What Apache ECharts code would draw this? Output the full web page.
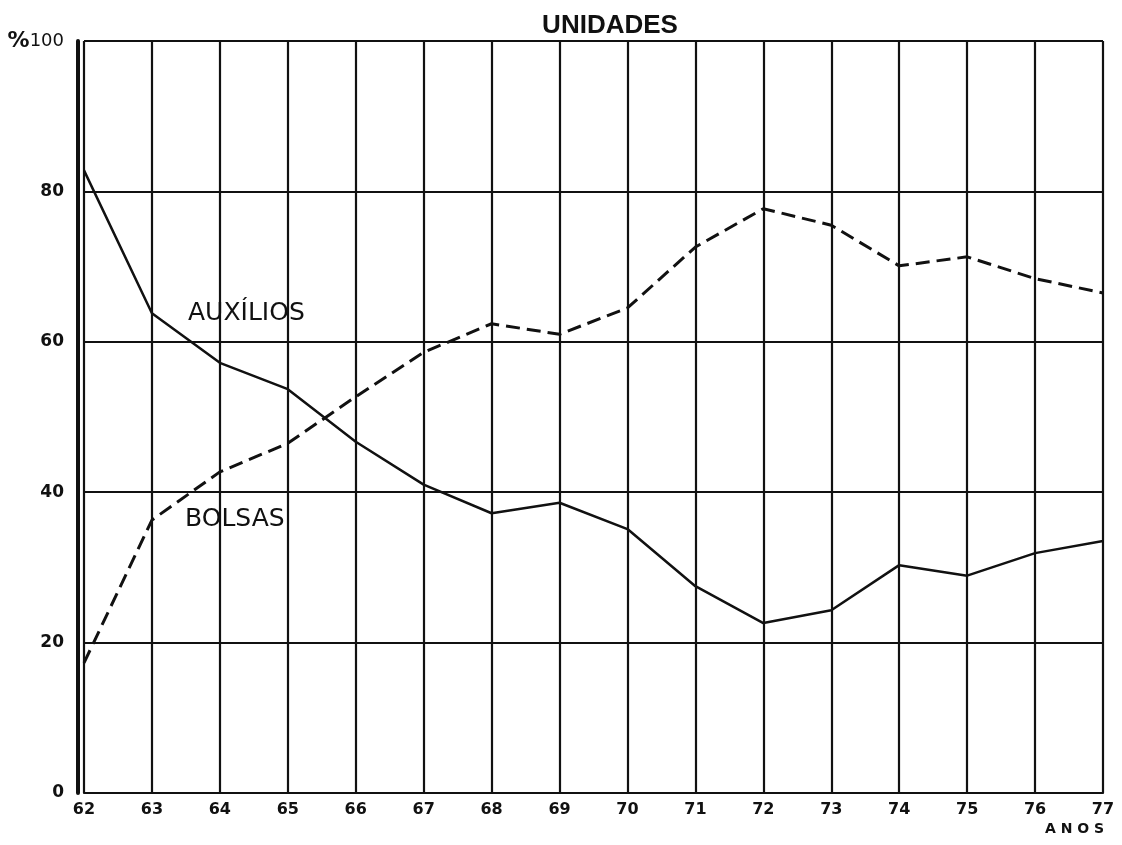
<!DOCTYPE html>
<html>
<head>
<meta charset="utf-8">
<script src="https://cdn.jsdelivr.net/npm/echarts@6/dist/echarts.min.js"></script>
<style>html,body{margin:0;padding:0;background:#fff}#c{width:1122px;height:845px}</style>
</head>
<body>
<div id="c"></div>
<script>
const years = ['62','63','64','65','66','67','68','69','70','71','72','73','74','75','76','77'];
const auxilios = [82.8,63.8,57.2,53.7,46.7,41.0,37.2,38.6,35.1,27.5,22.6,24.3,30.3,28.9,31.9,33.5];
const bolsas = [17.3,36.3,42.7,46.5,52.7,58.6,62.4,61.0,64.5,72.6,77.7,75.5,70.1,71.3,68.4,66.5];
const yTicks = [0,20,40,60,80,100];

const chart = echarts.init(document.getElementById('c'));
chart.setOption({
  backgroundColor: '#fff',
  animation: false,
  title: {
    text: 'UNIDADES', left: 605, top: 8, textAlign: 'center',
    textStyle: {fontFamily: 'Liberation Sans', fontWeight: 'bold', fontSize: 26, color: '#111'}
  },
  grid: {left: 84, right: 19, top: 41, bottom: 52},
  xAxis: {
    type: 'category', data: years, boundaryGap: false,
    axisLine: {lineStyle: {color: '#111', width: 2.2}},
    axisTick: {show: false},
    axisLabel: {margin: 9, fontFamily: 'DejaVu Sans', fontWeight: 'bold', fontSize: 16, color: '#111'},
    splitLine: {show: true, lineStyle: {color: '#111', width: 2.2}}
  },
  yAxis: {
    type: 'value', min: 0, max: 100, interval: 20, offset: 6,
    axisLine: {show: true, lineStyle: {color: '#111', width: 4}},
    axisTick: {show: false},
    axisLabel: {
      margin: 14, fontFamily: 'DejaVu Sans', fontWeight: 'bold', fontSize: 17, color: '#111',
      formatter: v => yTicks.includes(v) ? (v === 100 ? '{p|%}{n|100}' : String(v)) : '',
      rich: {
        p: {fontFamily: 'DejaVu Sans', fontWeight: 'bold', fontSize: 22, color: '#111'},
        n: {fontFamily: 'DejaVu Sans', fontWeight: 'normal', fontSize: 18, color: '#111'}
      }
    },
    splitLine: {show: true, lineStyle: {color: '#111', width: 2.2}}
  },
  series: [
    {name: 'AUXÍLIOS', type: 'line', data: auxilios, showSymbol: false,
     lineStyle: {color: '#111', width: 2.5, type: 'solid'}},
    {name: 'BOLSAS', type: 'line', data: bolsas, showSymbol: false,
     lineStyle: {color: '#111', width: 3, type: [14, 7]}}
  ],
  graphic: [
    {type: 'text', left: 188, top: 301, style: {text: 'AUXÍLIOS', fontFamily: 'DejaVu Sans', fontSize: 25, fill: '#111'}},
    {type: 'text', left: 185, top: 507, style: {text: 'BOLSAS', fontFamily: 'DejaVu Sans', fontSize: 25, fill: '#111'}},
    {type: 'text', left: 1045, top: 822, style: {text: 'A N O S', fontFamily: 'DejaVu Sans', fontWeight: 'bold', fontSize: 14, fill: '#111'}}
  ]
});
</script>
</body>
</html>
